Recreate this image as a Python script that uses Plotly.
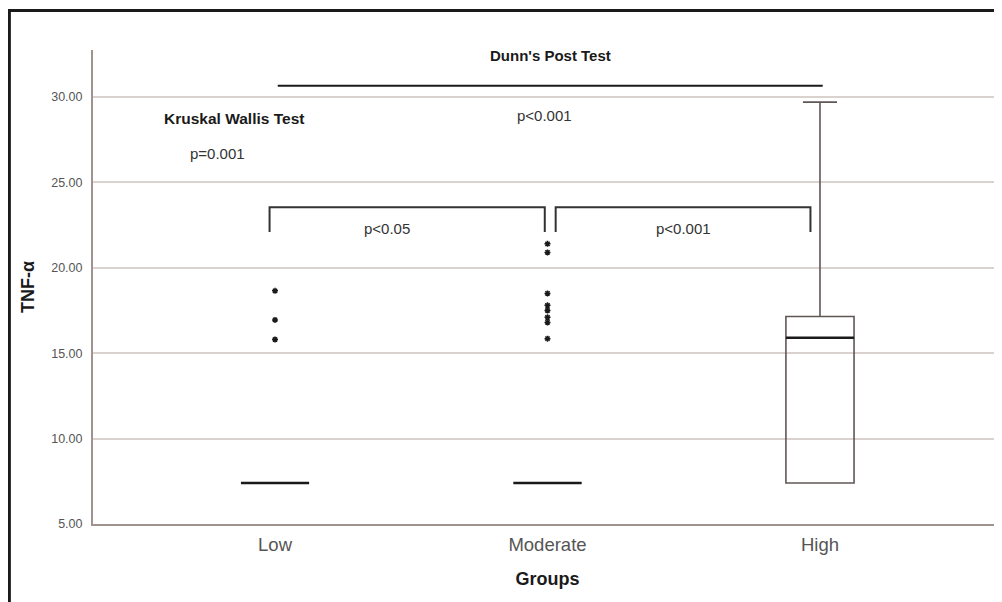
import plotly.graph_objects as go

# ---- data ----
groups = ["Low", "Moderate", "High"]
q1 = [7.4, 7.4, 7.4]
median = [7.4, 7.4, 15.9]
q3 = [7.4, 7.4, 17.15]
lower_fence = [7.4, 7.4, 7.4]
upper_fence = [7.4, 7.4, 29.7]

low_outliers = [18.65, 16.95, 15.8]
moderate_outliers = [21.4, 20.9, 18.5, 17.8, 17.5, 17.1, 16.8, 15.85]

y_ticks = [5, 10, 15, 20, 25, 30]
y_tick_labels = ["5.00", "10.00", "15.00", "20.00", "25.00", "30.00"]

FONT = "Liberation Sans, Arial, sans-serif"
INK = "#1a1a1a"
BOXLINE = "#5f5755"

fig = go.Figure()

fig.add_trace(go.Box(
    x=groups, q1=q1, median=median, q3=q3,
    lowerfence=lower_fence, upperfence=upper_fence,
    width=0.25, whiskerwidth=0.5,
    fillcolor="rgba(255,255,255,0)",
    line=dict(color=BOXLINE, width=1.6),
    boxpoints=False, showlegend=False, hoverinfo="skip",
))
# darker, thicker median lines (SPSS style)
fig.add_trace(go.Box(
    x=groups, q1=median, median=median, q3=median,
    lowerfence=median, upperfence=median,
    width=0.25, whiskerwidth=0,
    fillcolor="rgba(255,255,255,0)",
    line=dict(color=INK, width=2.6),
    boxpoints=False, showlegend=False, hoverinfo="skip",
))

out_x = [groups[0]] * len(low_outliers) + [groups[1]] * len(moderate_outliers)
out_y = low_outliers + moderate_outliers
fig.add_trace(go.Scatter(
    x=out_x, y=out_y, mode="markers",
    marker=dict(symbol="asterisk-open", size=5, color=INK,
                line=dict(color=INK, width=1.5)),
    showlegend=False, hoverinfo="skip",
))

shapes = []
# Dunn's overall line Low -> High
shapes.append(dict(type="line", xref="x", yref="y", x0=0.01, x1=2.01, y0=30.65, y1=30.65,
                   line=dict(color=INK, width=2)))
# bracket Low - Moderate
shapes.append(dict(type="path", xref="x", yref="y",
                   path="M -0.02,22.1 L -0.02,23.55 L 0.99,23.55 L 0.99,22.1",
                   line=dict(color="#333", width=2)))
# bracket Moderate - High
shapes.append(dict(type="path", xref="x", yref="y",
                   path="M 1.03,22.1 L 1.03,23.55 L 1.965,23.55 L 1.965,22.1",
                   line=dict(color="#333", width=2)))
# outer frame (top and left)
shapes.append(dict(type="line", xref="paper", yref="paper", x0=-0.092, x1=1.01, y0=1.0835, y1=1.0835,
                   line=dict(color=INK, width=3)))
shapes.append(dict(type="line", xref="paper", yref="paper", x0=-0.092, x1=-0.092, y0=-0.2, y1=1.0865,
                   line=dict(color=INK, width=3)))

annotations = [
    dict(x=1.01, y=32.4, text="<b>Dunn's Post Test</b>", font=dict(size=15, color=INK, family=FONT)),
    dict(x=0.99, y=28.9, text="p<0.001", font=dict(size=15, color="#333", family=FONT)),
    dict(x=-0.15, y=28.75, text="<b>Kruskal Wallis Test</b>", font=dict(size=15.5, color=INK, family=FONT)),
    dict(x=-0.21, y=26.7, text="p=0.001", font=dict(size=15, color="#333", family=FONT)),
    dict(x=0.41, y=22.3, text="p<0.05", font=dict(size=15, color="#333", family=FONT)),
    dict(x=1.5, y=22.3, text="p<0.001", font=dict(size=15, color="#333", family=FONT)),
]
for a in annotations:
    a.update(xref="x", yref="y", showarrow=False)

fig.update_layout(
    width=994, height=594,
    margin=dict(l=85, r=0, t=42, b=78),
    paper_bgcolor="white", plot_bgcolor="white",
    font=dict(family=FONT),
    boxmode="overlay",
    shapes=shapes, annotations=annotations,
    xaxis=dict(
        type="category", categoryorder="array", categoryarray=groups,
        range=[-0.668, 2.668],
        showgrid=False, zeroline=False,
        showline=True, linecolor="#a0938f", linewidth=2,
        ticks="", ticklabelstandoff=3,
        tickfont=dict(size=18.5, color="#555", family=FONT),
        title=dict(text="<b>Groups</b>", font=dict(size=18, color=INK, family=FONT), standoff=18),
    ),
    yaxis=dict(
        range=[5, 32.75],
        tickvals=y_ticks, ticktext=y_tick_labels,
        showgrid=True, gridcolor="#dad2cf", gridwidth=1.5,
        zeroline=False,
        showline=True, linecolor="#a0938f", linewidth=2,
        ticks="", ticklabelstandoff=6,
        tickfont=dict(size=12.5, color="#555", family=FONT),
        title=dict(text="<b>TNF-α</b>", font=dict(size=18, color=INK, family=FONT), standoff=12),
    ),
)

fig.write_html("out.html")
